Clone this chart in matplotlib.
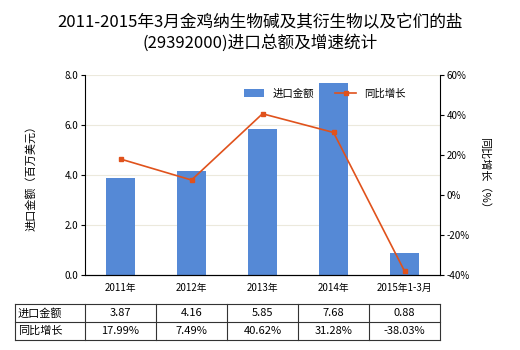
import matplotlib
matplotlib.use("Agg")
import matplotlib.pyplot as plt
import numpy as np

plt.rcParams['font.family'] = ['Noto Sans CJK SC', 'DejaVu Sans']

categories = ["2011年", "2012年", "2013年", "2014年", "2015年1-3月"]
amounts = [3.87, 4.16, 5.85, 7.68, 0.88]
growth = [17.99, 7.49, 40.62, 31.28, -38.03]
left_ticks = [0.0, 2.0, 4.0, 6.0, 8.0]
right_ticks = [-40, -20, 0, 20, 40, 60]

W, H = 520, 350
fig = plt.figure(figsize=(W/100, H/100), dpi=100)

ax_l, ax_r, ax_t, ax_b = 85, 440, 75, 275
ax = fig.add_axes([ax_l/W, 1-ax_b/H, (ax_r-ax_l)/W, (ax_b-ax_t)/H])
x = np.arange(len(categories))
bar_color = "#5589d6"
line_color = "#e0521c"
ax.bar(x, amounts, width=0.4, color=bar_color, zorder=2, label="进口金额")
ax.set_xlim(-0.5, len(categories)-0.5)
ax.set_ylim(0, 8)
ax.set_yticks(left_ticks)
ax.set_yticklabels([f"{v:.1f}" for v in left_ticks], fontsize=7)
ax.set_xticks(x)
ax.set_xticklabels(categories, fontsize=7)
ax.tick_params(axis='x', length=0, pad=6)
ax.tick_params(axis='y', length=3, pad=2)
for v in left_ticks[1:]:
    ax.axhline(v, color="#ece9dc", lw=0.8, zorder=0)
for s in ['top', 'right']:
    ax.spines[s].set_visible(False)
ax.set_ylabel("进口金额（百万美元）", fontsize=8, labelpad=20)

ax2 = ax.twinx()
ax2.plot(x, growth, color=line_color, lw=1.2, marker='s', markersize=3.5, zorder=3, label="同比增长")
ax2.set_ylim(-40, 60)
ax2.set_yticks(right_ticks)
ax2.set_yticklabels([f"{v}%" for v in right_ticks], fontsize=7)
ax2.tick_params(axis='y', length=3, pad=2)
for s in ['top', 'left']:
    ax2.spines[s].set_visible(False)
ax2.set_ylabel("同比增长（%）", fontsize=8, rotation=-90, labelpad=14)

h1, l1 = ax.get_legend_handles_labels()
h2, l2 = ax2.get_legend_handles_labels()
ax.legend(h1+h2, l1+l2, loc='upper right', bbox_to_anchor=(0.93, 0.98), ncol=2, frameon=False,
          fontsize=7.5, handlelength=2.0, columnspacing=2.0)

fig.text(0.5, 1-33/H, "2011-2015年3月金鸡纳生物碱及其衍生物以及它们的盐\n(29392000)进口总额及增速统计",
         ha='center', va='center', fontsize=12, linespacing=1.25)

# table
t_left, t_top, row_h = 15, 304, 18
col_w = (ax_r - ax_l) / len(categories)
rows = [("进口金额", [f"{v:.2f}" for v in amounts]), ("同比增长", [f"{v:.2f}%" for v in growth])]
lc = "#333333"
def fx(px): return px / W
def fy(py): return 1 - py / H
n_rows = len(rows)
for i in range(n_rows + 1):
    yy = t_top + i * row_h
    fig.add_artist(plt.Line2D([fx(t_left), fx(ax_r)], [fy(yy), fy(yy)], color=lc, lw=0.8))
xs = [t_left, ax_l] + [ax_l + (j+1)*col_w for j in range(len(categories))]
for xx in xs:
    fig.add_artist(plt.Line2D([fx(xx), fx(xx)], [fy(t_top), fy(t_top + n_rows*row_h)], color=lc, lw=0.8))
for i, (name, vals) in enumerate(rows):
    yc = t_top + (i + 0.5) * row_h
    fig.text(fx(t_left + 3), fy(yc), name, ha='left', va='center', fontsize=8)
    for j, v in enumerate(vals):
        fig.text(fx(ax_l + (j + 0.5) * col_w), fy(yc), v, ha='center', va='center', fontsize=8)

fig.savefig("out.png", dpi=100)
